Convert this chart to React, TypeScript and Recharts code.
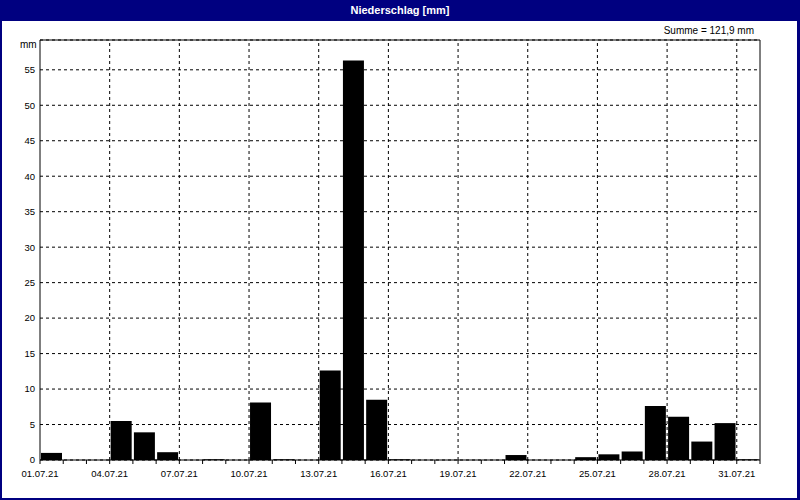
import { BarChart, Bar, XAxis, YAxis, CartesianGrid, ReferenceLine } from 'recharts';

const days = [
  '01.07.21', '02.07.21', '03.07.21', '04.07.21', '05.07.21', '06.07.21', '07.07.21', '08.07.21',
  '09.07.21', '10.07.21', '11.07.21', '12.07.21', '13.07.21', '14.07.21', '15.07.21', '16.07.21',
  '17.07.21', '18.07.21', '19.07.21', '20.07.21', '21.07.21', '22.07.21', '23.07.21', '24.07.21',
  '25.07.21', '26.07.21', '27.07.21', '28.07.21', '29.07.21', '30.07.21', '31.07.21',
];
const rain = [
  1.0, 0, 0, 5.5, 3.9, 1.1, 0, 0.1, 0, 8.1, 0.1, 0, 12.6, 56.3, 8.5, 0.1,
  0, 0, 0, 0, 0.7, 0, 0, 0.4, 0.8, 1.2, 7.6, 6.1, 2.6, 5.2, 0.1,
];
const yTicks = [0, 5, 10, 15, 20, 25, 30, 35, 40, 45, 50, 55];
const yMax = 59.2;
const labelStep = 3;
const title = 'Niederschlag [mm]';
const unit = 'mm';
const sumText = 'Summe = 121,9 mm';

const rows = days.map((day, i) => ({ day, pos: i + 0.5, mm: rain[i] }));
const xTicks = [...days.map((_, i) => i), days.length];
const gridX = xTicks.filter((i) => i > 0 && i < days.length && i % labelStep === 0);

const NAVY = '#000080';
const FONT = '"Liberation Sans", Arial, sans-serif';

export default function App() {
  return (
    <div
      style={{
        position: 'relative',
        width: 800,
        height: 500,
        background: '#fff',
        fontFamily: FONT,
        overflow: 'hidden',
      }}
    >
      <style>{'body{margin:0}'}</style>
      <BarChart
        width={800}
        height={500}
        data={rows}
        margin={{ top: 40, right: 40, bottom: 10, left: 0 }}
        barCategoryGap={0}
      >
        <CartesianGrid vertical={false} stroke="#000" strokeDasharray="3 3" />
        {gridX.map((g) => (
          <ReferenceLine key={g} x={g} stroke="#000" strokeDasharray="3 3" />
        ))}
        <ReferenceLine y={yMax} stroke="#000" />
        <ReferenceLine x={days.length} stroke="#000" />
        <XAxis
          dataKey="pos"
          type="number"
          domain={[0, days.length]}
          ticks={xTicks}
          interval={0}
          height={30}
          tickSize={4}
          tickMargin={6}
          axisLine={{ stroke: '#000' }}
          tickLine={{ stroke: '#000' }}
          tick={{ fill: '#000', fontSize: 9.5, fontFamily: FONT }}
          tickFormatter={(v: number) => (v % labelStep === 0 && v < days.length ? days[v] : '')}
        />
        <YAxis
          type="number"
          domain={[0, yMax]}
          ticks={yTicks}
          interval={0}
          width={40}
          tickSize={3}
          tickMargin={2}
          tickLine={false}
          axisLine={{ stroke: '#000' }}
          tick={{ fill: '#000', fontSize: 9.5, fontFamily: FONT }}
        />
        <Bar dataKey="mm" fill="#000" barSize={21} isAnimationActive={false} />
      </BarChart>

      <div
        style={{
          position: 'absolute',
          left: 0,
          top: 0,
          width: 800,
          height: 21,
          background: NAVY,
          color: '#fff',
          fontWeight: 'bold',
          fontSize: 11,
          lineHeight: '21px',
          textAlign: 'center',
        }}
      >
        {title}
      </div>
      <div style={{ position: 'absolute', left: 20, top: 39, fontSize: 10, color: '#000' }}>{unit}</div>
      <div style={{ position: 'absolute', right: 46, top: 25, fontSize: 10, color: '#000' }}>{sumText}</div>
      <div
        style={{
          position: 'absolute',
          left: 0,
          top: 0,
          width: 800,
          height: 500,
          boxSizing: 'border-box',
          borderLeft: `2px solid ${NAVY}`,
          borderRight: `3px solid ${NAVY}`,
          borderBottom: `2px solid ${NAVY}`,
          pointerEvents: 'none',
        }}
      />
    </div>
  );
}
